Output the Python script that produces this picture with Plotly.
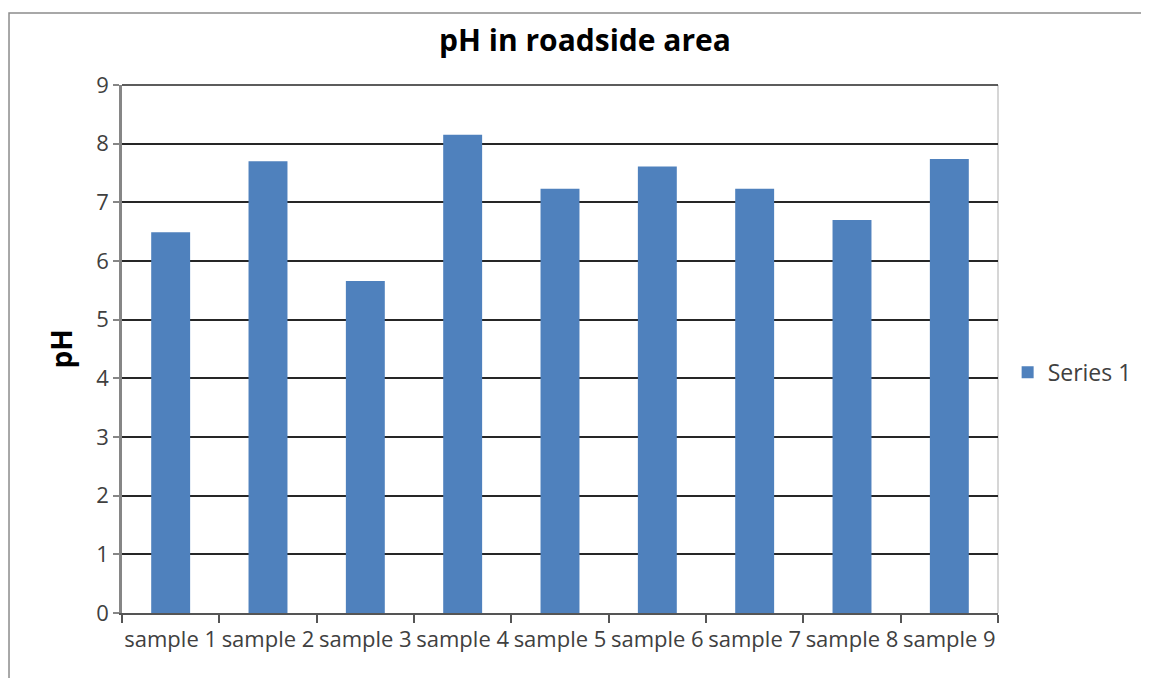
import plotly.graph_objects as go

categories = ["sample 1", "sample 2", "sample 3", "sample 4", "sample 5",
              "sample 6", "sample 7", "sample 8", "sample 9"]
ph_values = [6.49, 7.70, 5.66, 8.15, 7.23, 7.61, 7.23, 6.70, 7.74]
y_ticks = [0, 1, 2, 3, 4, 5, 6, 7, 8, 9]

FONT = "Open Sans"
L, T, PW, PH = 114, 77, 878, 528

fig = go.Figure()
fig.add_trace(go.Bar(
    x=categories, y=ph_values, name="Series 1",
    marker=dict(color="#4F81BD", line=dict(width=0)),
))

fig.update_layout(
    width=1141, height=670,
    margin=dict(l=L, r=1141 - L - PW, t=T, b=670 - T - PH),
    paper_bgcolor="white", plot_bgcolor="white",
    font=dict(family=FONT, size=22, color="#404040"),
    title=dict(text="<b>pH in roadside area</b>", x=0.5057, xanchor="center",
               y=0.952, yanchor="middle",
               font=dict(family=FONT, size=30, color="#000000")),
    bargap=0.6,
    showlegend=True,
    legend=dict(x=1.011, xanchor="left", y=0.456, yanchor="middle",
                font=dict(family=FONT, size=23, color="#404040"),
                bgcolor="rgba(0,0,0,0)"),
    xaxis=dict(
        type="category", tickson="boundaries", ticks="outside", ticklen=8,
        tickwidth=2, tickcolor="#555555", showline=True, linecolor="#555555",
        linewidth=2, showgrid=False, tickangle=0, ticklabelstandoff=6,
        tickfont=dict(family=FONT, size=22, color="#404040"),
    ),
    yaxis=dict(
        range=[0, 9], tickvals=y_ticks, ticks="outside", ticklen=6,
        tickwidth=2, tickcolor="#868686", showline=True, linecolor="#868686",
        linewidth=2.5, showgrid=True, gridcolor="#262626", gridwidth=1.5,
        zeroline=False,
        title=dict(text="<b>pH</b>", standoff=16,
                   font=dict(family=FONT, size=28, color="#000000")),
        tickfont=dict(family=FONT, size=22, color="#404040"),
    ),
)

# gridline at the top of the plot area (value 9)
fig.add_shape(type="line", xref="paper", yref="paper", x0=0, x1=1, y0=1, y1=1,
              line=dict(color="#262626", width=1.5), layer="above")
# right edge light line of the plot area
fig.add_shape(type="line", xref="paper", yref="paper", x0=1, x1=1, y0=0, y1=1,
              line=dict(color="#c8c8c8", width=1.5), layer="below")
# outer chart border
fig.add_shape(type="rect", xref="paper", yref="paper",
              x0=(0.75 - L) / PW, x1=(1200 - L) / PW,
              y0=(T + PH - 720) / PH, y1=(T + PH - 5) / PH,
              line=dict(color="#8c8c8c", width=1.5), fillcolor="rgba(0,0,0,0)")

fig.write_html("out.html")
